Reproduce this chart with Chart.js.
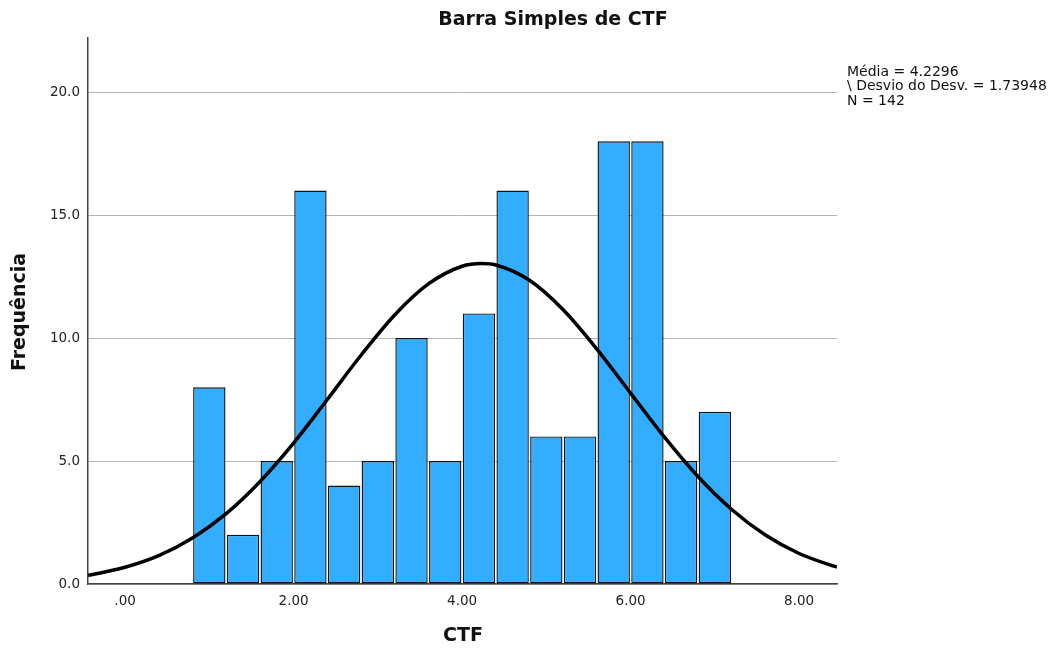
<!DOCTYPE html>
<html>
<head>
<meta charset="utf-8">
<script src="https://cdn.jsdelivr.net/npm/chart.js@4"></script>
<style>
  html, body { margin: 0; padding: 0; background: #fff; }
  #wrap { width: 1059px; height: 651px; position: relative; }
</style>
</head>
<body>
<div id="wrap"><canvas id="chart"></canvas></div>
<script>
'use strict';

// histogram bins (centre of each 0.4-wide bin) and counts
let binCenters = [1.0, 1.4, 1.8, 2.2, 2.6, 3.0, 3.4, 3.8, 4.2, 4.6, 5.0, 5.4, 5.8, 6.2, 6.6, 7.0];
let binCounts = [8, 2, 5, 16, 4, 5, 10, 5, 11, 16, 6, 6, 18, 18, 5, 7];

// normal curve
let curveX = [-0.44, -0.4, 0, 0.4, 0.8, 1.2, 1.6, 2.0, 2.4, 2.8, 3.2, 3.6, 4.0, 4.23, 4.4, 4.8, 5.2, 5.6, 6.0, 6.4, 6.8, 7.2, 7.6, 8.0, 8.4, 8.45];
let curveY = [0.36, 0.38, 0.68, 1.15, 1.87, 2.86, 4.16, 5.73, 7.50, 9.30, 10.94, 12.20, 12.92, 13.03, 12.97, 12.35, 11.15, 9.55, 7.76, 5.98, 4.37, 3.03, 1.99, 1.24, 0.74, 0.69];

let xTicks = [0, 2, 4, 6, 8];
let yTicks = [0, 5, 10, 15, 20];

let statLines = ['Média = 4.2296', '\\ Desvio do Desv. = 1.73948', 'N = 142'];

const font = '"DejaVu Sans", sans-serif';

let textPlugin = {
  id: 'textPlugin',
  afterDraw(chart) {
    const c = chart.ctx;
    c.save();
    c.fillStyle = '#111';
    c.textBaseline = 'middle';
    c.textAlign = 'center';
    c.font = 'bold 19px ' + font;
    c.fillText('Barra Simples de CTF', 553, 20);
    c.font = 'bold 19px ' + font;
    c.fillText('CTF', 463, 636);
    c.save();
    c.translate(20, 312);
    c.rotate(-Math.PI / 2);
    c.fillText('Frequência', 0, 0);
    c.restore();
    c.textAlign = 'left';
    c.font = '14px ' + font;
    for (let i = 0; i < statLines.length; i++) {
      c.fillText(statLines[i], 847, 72 + i * 14.5);
    }
    c.restore();
  }
};

let barData = [];
for (let i = 0; i < binCenters.length; i++) {
  barData.push({ x: binCenters[i], y: binCounts[i] });
}
let lineData = [];
for (let i = 0; i < curveX.length; i++) {
  lineData.push({ x: curveX[i], y: curveY[i] });
}

const ctx = document.getElementById('chart');

let config = {
  type: 'bar',
  data: {
    datasets: [
      {
        type: 'line',
        data: lineData,
        borderColor: '#000',
        borderWidth: 3.5,
        pointRadius: 0,
        tension: 0.4,
        cubicInterpolationMode: 'monotone',
        fill: false,
        order: 0
      },
      {
        type: 'bar',
        data: barData,
        backgroundColor: '#33adff',
        borderColor: '#111',
        borderWidth: 1.4,
        borderSkipped: false,
        barPercentage: 0.96,
        categoryPercentage: 1,
        order: 1
      }
    ]
  },
  options: {
    responsive: true,
    maintainAspectRatio: false,
    animation: false,
    layout: { padding: { left: 0, right: 222, top: 38, bottom: 0 } },
    plugins: {
      legend: { display: false },
      title: { display: false },
      tooltip: { enabled: false }
    },
    scales: {
      x: {
        type: 'linear',
        min: -0.44,
        max: 8.45,
        offset: false,
        afterBuildTicks(scale) {
          scale.ticks = xTicks.map(v => ({ value: v }));
        },
        afterFit(scale) { scale.height = 651 - 584; },
        grid: { display: false, drawTicks: false },
        border: { display: true, color: '#444', width: 1.5 },
        ticks: {
          padding: 9,
          color: '#222',
          font: { family: font, size: 13.5 },
          callback: v => (v === 0 ? '.00' : v.toFixed(2))
        }
      },
      y: {
        min: 0,
        max: 22.2,
        afterBuildTicks(scale) {
          scale.ticks = yTicks.map(v => ({ value: v }));
        },
        afterFit(scale) { scale.width = 88; },
        grid: { display: true, color: '#b4b4b4', lineWidth: 1, drawTicks: false },
        border: { display: true, color: '#444', width: 1.5 },
        ticks: {
          padding: 8,
          color: '#222',
          font: { family: font, size: 13.5 },
          callback: v => v.toFixed(1)
        }
      }
    }
  },
  plugins: [textPlugin]
};

// eslint-disable-next-line no-undef
new Chart(ctx, config);
</script>
</body>
</html>
